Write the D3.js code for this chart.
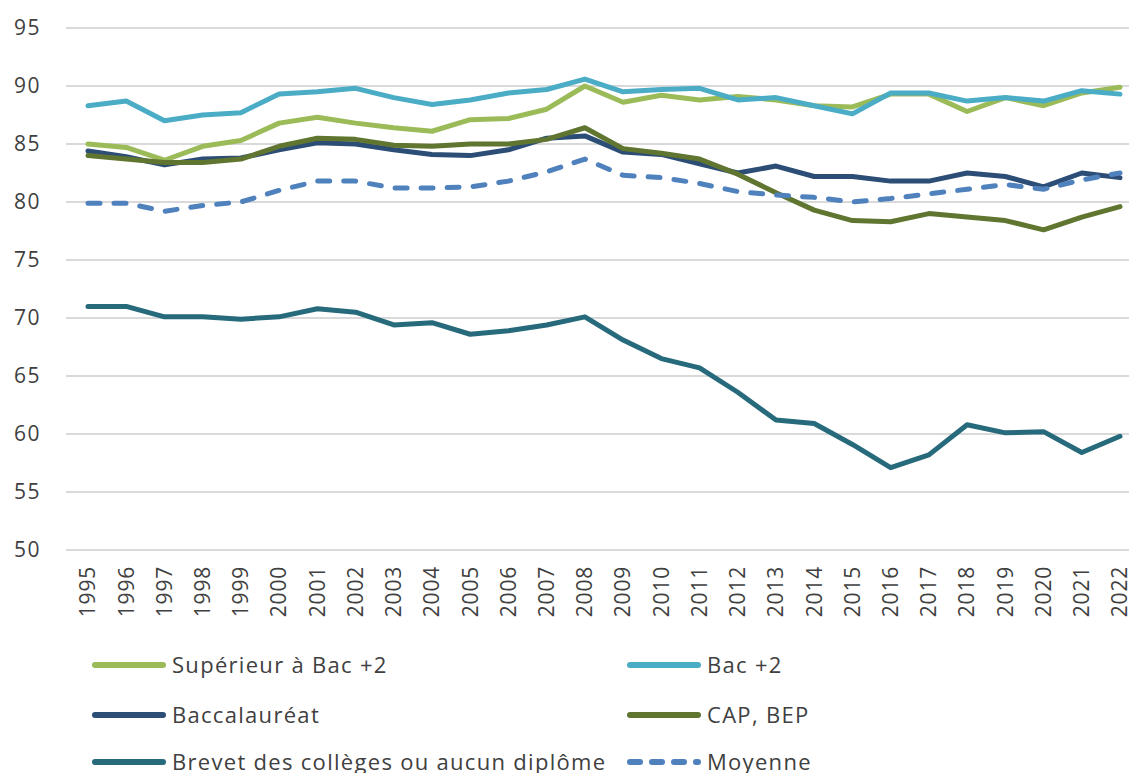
<!DOCTYPE html>
<html><head><meta charset="utf-8">
<script src="https://cdn.jsdelivr.net/npm/d3@7"></script>
<style>body{margin:0;background:#fff;} text{font-family:"Open Sans",sans-serif;}</style>
</head><body><svg id="c" width="1129" height="773"></svg>
<script>
const years = [1995,1996,1997,1998,1999,2000,2001,2002,2003,2004,2005,2006,2007,2008,2009,2010,2011,2012,2013,2014,2015,2016,2017,2018,2019,2020,2021,2022];
const superieur = [85.0,84.7,83.6,84.8,85.3,86.8,87.3,86.8,86.4,86.1,87.1,87.2,88.0,90.0,88.6,89.2,88.8,89.1,88.8,88.3,88.2,89.3,89.3,87.8,89.0,88.3,89.4,89.9];
const bac2 = [88.3,88.7,87.0,87.5,87.7,89.3,89.5,89.8,89.0,88.4,88.8,89.4,89.7,90.6,89.5,89.7,89.8,88.8,89.0,88.3,87.6,89.4,89.4,88.7,89.0,88.7,89.6,89.3];
const baccalaureat = [84.4,83.9,83.2,83.7,83.8,84.5,85.1,85.0,84.5,84.1,84.0,84.5,85.5,85.7,84.3,84.1,83.3,82.5,83.1,82.2,82.2,81.8,81.8,82.5,82.2,81.3,82.5,82.1];
const capBep = [84.0,83.7,83.4,83.4,83.7,84.8,85.5,85.4,84.9,84.8,85.0,85.0,85.4,86.4,84.6,84.2,83.7,82.4,80.8,79.3,78.4,78.3,79.0,78.7,78.4,77.6,78.7,79.6];
const brevet = [71.0,71.0,70.1,70.1,69.9,70.1,70.8,70.5,69.4,69.6,68.6,68.9,69.4,70.1,68.1,66.5,65.7,63.6,61.2,60.9,59.1,57.1,58.2,60.8,60.1,60.2,58.4,59.8];
const moyenne = [79.9,79.9,79.2,79.7,80.0,81.0,81.8,81.8,81.2,81.2,81.3,81.8,82.6,83.7,82.3,82.1,81.6,80.9,80.6,80.4,80.0,80.3,80.7,81.1,81.5,81.1,81.9,82.5];
const yTicks = [50,55,60,65,70,75,80,85,90,95];

const seriesNames = ["Supérieur à Bac +2","Bac +2","Baccalauréat","CAP, BEP","Brevet des collèges ou aucun diplôme","Moyenne"];
const seriesValues = [superieur, bac2, baccalaureat, capBep, brevet, moyenne];
const colors = ["#9bbb59","#4bacc6","#2c4d75","#5f7530","#276a7c","#4f81bd"];
const dashed = [false,false,false,false,false,true];

const svg = d3.select("#c");
const x = d3.scaleLinear().domain([1995,2022]).range([88,1120]);
const y = d3.scaleLinear().domain([50,95]).range([550,28]);

// grid
svg.append("g").selectAll("line").data(yTicks).join("line")
  .attr("x1",66).attr("x2",1129).attr("y1",d=>y(d)).attr("y2",d=>y(d))
  .attr("stroke","#d9d9d9").attr("stroke-width",2);

// y axis
const ya = svg.append("g").attr("transform","translate(41,0)")
  .call(d3.axisLeft(y).tickValues(yTicks).tickSize(0).tickPadding(0));
ya.select(".domain").remove();
ya.selectAll("text").attr("font-size",21).attr("letter-spacing","1.5px").attr("fill","#404040").attr("font-family","Open Sans, sans-serif");

// x axis
const xa = svg.append("g").attr("transform","translate(0,566)")
  .call(d3.axisBottom(x).tickValues(years).tickFormat(d3.format("d")).tickSize(0).tickPadding(0));
xa.select(".domain").remove();
xa.selectAll(".tick").attr("transform","translate(0,0)");
xa.selectAll("text").attr("font-size",21).attr("letter-spacing","0.8px").attr("fill","#404040").attr("font-family","Open Sans, sans-serif")
  .attr("text-anchor","end").attr("dy","0.35em").attr("x",0).attr("y",0)
  .attr("transform", d=>`translate(${x(d)},0) rotate(-90)`);

const line = d3.line().x((d,i)=>x(years[i])).y(d=>y(d));
const order = [4,0,1,2,3,5];
order.forEach(k=>{
  svg.append("path").datum(seriesValues[k]).attr("d",line)
    .attr("fill","none").attr("stroke",colors[k]).attr("stroke-width",5)
    .attr("stroke-linejoin","round").attr("stroke-linecap","round")
    .attr("stroke-dasharray", dashed[k] ? "12,14" : null);
});

// legend
const legPos = [[95,665],[630,665],[95,715],[630,715],[95,762],[630,762]];
seriesNames.forEach((n,k)=>{
  const [lx,ly] = legPos[k];
  svg.append("line").attr("x1",lx).attr("x2",lx+68).attr("y1",ly).attr("y2",ly)
    .attr("stroke",colors[k]).attr("stroke-width",6).attr("stroke-linecap","round")
    .attr("stroke-dasharray", dashed[k] ? "10,12" : null);
  svg.append("text").attr("x",lx+77).attr("y",ly).attr("dy","0.35em")
    .attr("font-size",22).attr("letter-spacing","1.3px").attr("fill","#404040").text(n);
});
</script></body></html>
